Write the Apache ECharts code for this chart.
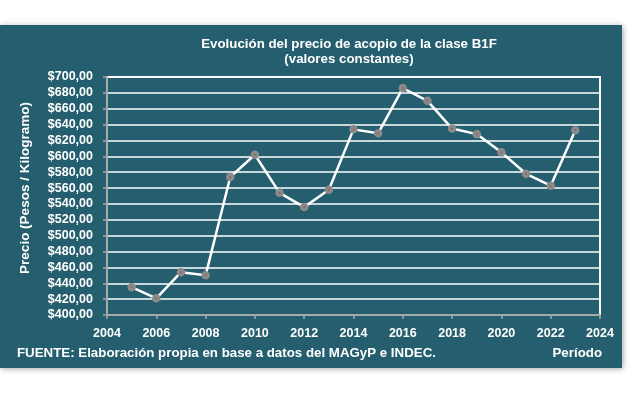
<!DOCTYPE html>
<html>
<head>
<meta charset="utf-8">
<script src="https://cdn.jsdelivr.net/npm/echarts@6/dist/echarts.min.js"></script>
<style>
html,body{margin:0;padding:0;background:#ffffff;}
#c{width:631px;height:395px;}
</style>
</head>
<body>
<div id="c"></div>
<script>
const years = [2005,2006,2007,2008,2009,2010,2011,2012,2013,2014,2015,2016,2017,2018,2019,2020,2021,2022,2023];
const prices = [435,421,454,450,574,602,554,536,558,634,629,686,670,635,628,605,578,563,633];
const yTicks = {min:400, max:700, step:20};
const xTicks = {min:2004, max:2024, step:2};
const titleLines = ['Evolución del precio de acopio de la clase B1F','(valores constantes)'];
const yName = 'Precio (Pesos / Kilogramo)';
const sourceText = 'FUENTE: Elaboración propia en base a datos del MAGyP e INDEC.';
const xName = 'Período';

const FONT = '"Liberation Sans", Arial, sans-serif';
const chart = echarts.init(document.getElementById('c'), null, {renderer:'canvas'});
const txt = {color:'#ffffff', fontFamily:FONT, fontWeight:'bold', fontSize:12.5};
const gtxt = (s, size, extra) => Object.assign({text:s, fill:'#ffffff', font:'bold '+size+'px '+FONT}, extra||{});
chart.setOption({
  backgroundColor:'#ffffff',
  animation:false,
  graphic:[
    {type:'rect', z:-10, shape:{x:0,y:25,width:622,height:343}, style:{fill:'#255f6f', shadowBlur:6, shadowColor:'rgba(0,0,0,0.35)', shadowOffsetX:1, shadowOffsetY:1}},
    {type:'text', z:10, left:17, top:347, style:gtxt(sourceText, 13.3)},
    {type:'text', z:10, right:29, top:347, style:gtxt(xName, 13.3)},
    {type:'text', z:10, x:25, y:188, rotation:Math.PI/2, style:gtxt(yName, 13.5, {align:'center', verticalAlign:'middle'})}
  ],
  title:{
    text:titleLines.join('\n'),
    left:344, top:32, textAlign:'center',
    textStyle:{color:'#ffffff', fontFamily:FONT, fontWeight:'bold', fontSize:13.3, lineHeight:15}
  },
  grid:{left:107, right:31, top:77, bottom:80, show:true, borderColor:'#ffffff', borderWidth:2, containLabel:false},
  xAxis:{
    type:'value', min:xTicks.min, max:xTicks.max, interval:xTicks.step,
    axisLine:{show:true, lineStyle:{color:'#a9a9a9', width:2}},
    axisTick:{show:true, length:4, lineStyle:{color:'#a9a9a9', width:1.5}},
    axisLabel:Object.assign({margin:12, formatter:v=>String(v)}, txt),
    splitLine:{show:false}
  },
  yAxis:{
    type:'value', min:yTicks.min, max:yTicks.max, interval:yTicks.step,
    axisLine:{show:true, lineStyle:{color:'#a9a9a9', width:2}},
    axisTick:{show:true, length:4, lineStyle:{color:'#a9a9a9', width:1.5}},
    axisLabel:Object.assign({margin:14, formatter:v=>'$'+v.toFixed(2).replace('.',',')}, txt),
    splitLine:{show:true, lineStyle:{color:'#ffffff', width:1.5}}
  },
  series:[{
    type:'line',
    data:years.map((y,i)=>[y,prices[i]]),
    lineStyle:{color:'#ffffff', width:2.5},
    symbol:'circle', symbolSize:5,
    itemStyle:{color:'#b23a3a', borderColor:'#8a8a8a', borderWidth:3.5},
    z:5
  }]
});
</script>
</body>
</html>
